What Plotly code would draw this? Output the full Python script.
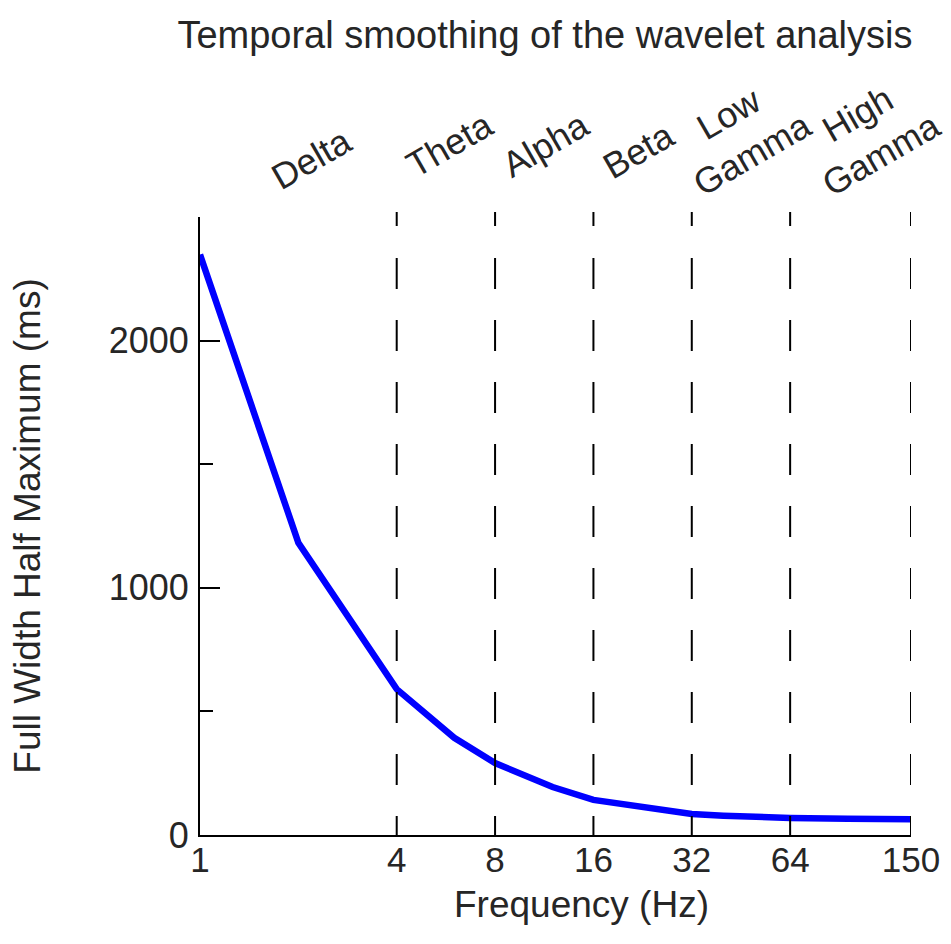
import math
import plotly.graph_objects as go

# ---- data ----
freq_hz = [1, 2, 4, 6, 8, 10, 12, 16, 20, 24, 32, 40, 48, 64, 96, 128, 150]
fwhm_ms = [2348, 1182, 590, 393, 291, 235, 194, 142, 122, 108, 85, 78, 74, 69, 66, 65, 64]

band_edges_hz = [4, 8, 16, 32, 64, 150]
band_names = ["Delta", "Theta", "Alpha", "Beta", "Low<br>Gamma", "High<br>Gamma"]
band_label_hz = [2.2, 5.8, 11.4, 22, 45, 112]
band_label_y = [1.095, 1.118, 1.118, 1.108, 1.135, 1.135]

x_tick_vals = [1, 4, 8, 16, 32, 64, 150]
x_tick_text = ["1", "4", "8", "16", "32", "64", "150"]
y_tick_vals = [0, 1000, 2000]
y_minor_vals = [500, 1500, 2500]

FONT = "Arial, Liberation Sans, Helvetica, sans-serif"
TXT = "#262626"

fig = go.Figure()
fig.add_trace(go.Scatter(
    x=freq_hz, y=fwhm_ms, mode="lines",
    line=dict(color="#0000ff", width=6.5),
    showlegend=False, hoverinfo="x+y",
))

dash_pattern = "14px,32px," + ",".join(["31px,31px"] * 10)
for f in band_edges_hz:
    fig.add_shape(type="line", xref="x", yref="paper",
                  x0=f, x1=f, y0=1.008, y1=0,
                  line=dict(color="black", width=2, dash=dash_pattern),
                  layer="above")

for name, f, yy in zip(band_names, band_label_hz, band_label_y):
    fig.add_annotation(x=math.log10(f), y=yy, xref="x", yref="paper",
                       text=name, showarrow=False, textangle=-30,
                       font=dict(family=FONT, size=36, color=TXT),
                       xanchor="center", yanchor="middle", align="center")

# x-axis title placed as annotation (slightly right of centre, as in reference)
fig.add_annotation(x=0.536, y=-0.113, xref="paper", yref="paper",
                   text="Frequency (Hz)", showarrow=False,
                   font=dict(family=FONT, size=37, color=TXT),
                   xanchor="center", yanchor="middle")

fig.update_layout(
    width=951, height=944,
    margin=dict(l=200, r=40, t=217, b=109),
    paper_bgcolor="white", plot_bgcolor="white",
    font=dict(family=FONT, size=35, color=TXT),
    title=dict(text="Temporal smoothing of the wavelet analysis",
               x=0.573, xanchor="center", y=0.963, yanchor="middle",
               font=dict(family=FONT, size=38, color=TXT)),
    xaxis=dict(type="log", range=[0, math.log10(150)],
               tickvals=x_tick_vals, ticktext=x_tick_text,
               ticks="", showgrid=False, zeroline=False,
               showline=True, linecolor="black", linewidth=2,
               ticklabelstandoff=-7,
               tickfont=dict(family=FONT, size=35, color=TXT)),
    yaxis=dict(range=[0, 2500], tickvals=y_tick_vals,
               ticks="inside", ticklen=20, tickwidth=2, tickcolor="black",
               minor=dict(tickvals=y_minor_vals, ticks="inside", ticklen=13,
                          tickwidth=2, tickcolor="black"),
               showgrid=False, zeroline=False,
               showline=True, linecolor="black", linewidth=2,
               ticklabelstandoff=2,
               tickfont=dict(family=FONT, size=36, color=TXT),
               title=dict(text="Full Width Half Maximum (ms)", standoff=57,
                          font=dict(family=FONT, size=37, color=TXT))),
)

fig.write_html("out.html")
